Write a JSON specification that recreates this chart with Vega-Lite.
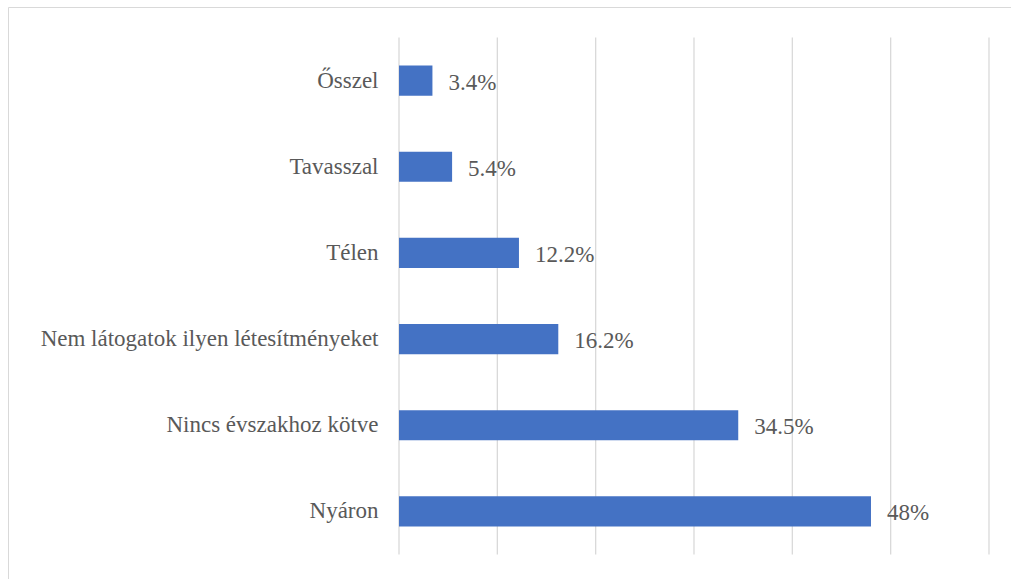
{
  "$schema": "https://vega.github.io/schema/vega-lite/v6.json",
  "autosize": "none",
  "padding": {"left": 8, "top": 7, "right": 0, "bottom": 0},
  "width": 1004,
  "height": 578,
  "background": "white",
  "config": {
    "view": {"stroke": "#d9d9d9", "strokeWidth": 1},
    "font": "'Times New Roman', Tinos, 'Liberation Serif', 'Noto Serif', 'DejaVu Serif', serif"
  },
  "datasets": {
    "bars": [
      {"cat": "Ősszel", "value": 3.4, "label": "3.4%"},
      {"cat": "Tavasszal", "value": 5.4, "label": "5.4%"},
      {"cat": "Télen", "value": 12.2, "label": "12.2%"},
      {"cat": "Nem látogatok ilyen létesítményeket", "value": 16.2, "label": "16.2%"},
      {"cat": "Nincs évszakhoz kötve", "value": 34.5, "label": "34.5%"},
      {"cat": "Nyáron", "value": 48, "label": "48%"}
    ],
    "grid": [{"g": 0}, {"g": 10}, {"g": 20}, {"g": 30}, {"g": 40}, {"g": 50}, {"g": 60}]
  },
  "layer": [
    {
      "data": {"name": "grid"},
      "mark": {"type": "rule", "color": "#d9d9d9", "strokeWidth": 1.3},
      "encoding": {
        "x": {"field": "g", "type": "quantitative", "scale": {"domain": [-39.763, 62.34], "nice": false, "zero": false}, "axis": null},
        "y": {"datum": "Ősszel", "type": "nominal", "bandPosition": 0,
              "scale": {"domain": ["Ősszel", "Tavasszal", "Télen", "Nem látogatok ilyen létesítményeket", "Nincs évszakhoz kötve", "Nyáron"], "paddingInner": 0, "paddingOuter": 0.355}},
        "y2": {"datum": "Nyáron", "bandPosition": 1}
      }
    },
    {
      "data": {"name": "bars"},
      "mark": {"type": "bar", "color": "#4472c4", "height": {"band": 0.35}},
      "encoding": {
        "y": {
          "field": "cat", "type": "nominal",
          "axis": {"title": null, "domain": false, "ticks": false, "grid": false, "offset": -370, "labelPadding": 0,
                   "labelFont": "'Times New Roman', Tinos, 'Liberation Serif', 'Noto Serif', 'DejaVu Serif', serif", "labelFontSize": 23, "labelColor": "#595959", "labelLimit": 0}
        },
        "x": {"field": "value", "type": "quantitative"},
        "x2": {"datum": 0}
      }
    },
    {
      "data": {"name": "bars"},
      "mark": {"type": "text", "align": "left", "baseline": "middle", "dx": 16, "dy": 2, "font": "'Times New Roman', Tinos, 'Liberation Serif', 'Noto Serif', 'DejaVu Serif', serif", "fontSize": 23, "color": "#595959"},
      "encoding": {
        "y": {"field": "cat", "type": "nominal"},
        "x": {"field": "value", "type": "quantitative"},
        "text": {"field": "label"}
      }
    }
  ]
}
